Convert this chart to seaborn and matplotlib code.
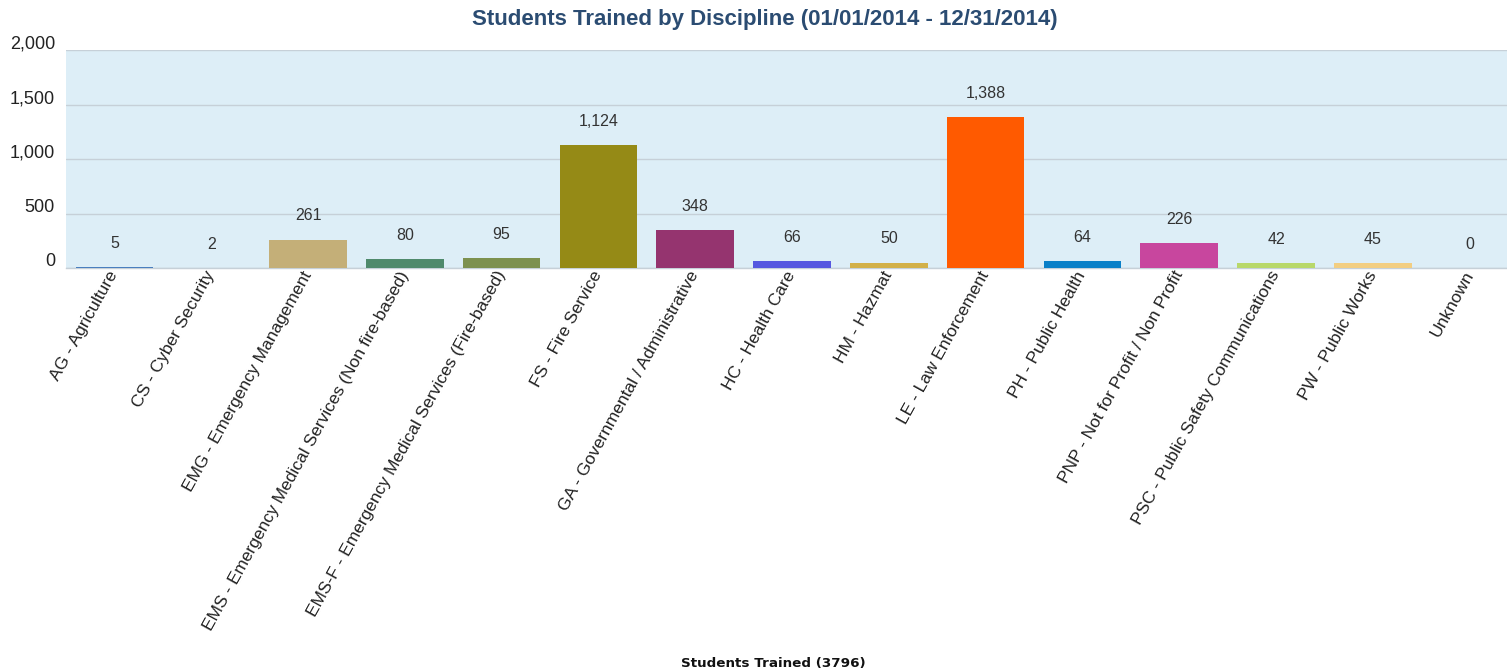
import matplotlib
matplotlib.use("Agg")
import matplotlib.pyplot as plt
import matplotlib.transforms as mtrans
import seaborn as sns
import pandas as pd
import numpy as np

categories = [
    "AG - Agriculture",
    "CS - Cyber Security",
    "EMG - Emergency Management",
    "EMS - Emergency Medical Services (Non fire-based)",
    "EMS-F - Emergency Medical Services (Fire-based)",
    "FS - Fire Service",
    "GA - Governmental / Administrative",
    "HC - Health Care",
    "HM - Hazmat",
    "LE - Law Enforcement",
    "PH - Public Health",
    "PNP - Not for Profit / Non Profit",
    "PSC - Public Safety Communications",
    "PW - Public Works",
    "Unknown",
]
students = [5, 2, 261, 80, 95, 1124, 348, 66, 50, 1388, 64, 226, 42, 45, 0]
bar_colors = [
    "#4A7FBF", "#8E8E8E", "#C4AF78", "#4F8A6C", "#7D914F", "#958A16",
    "#95346F", "#5658E0", "#D2B048", "#FF5A00", "#0A80C8", "#C8469E",
    "#B8D86A", "#F2CE82", "#999999",
]
y_ticks = [0, 500, 1000, 1500, 2000]
title = "Students Trained by Discipline (01/01/2014 - 12/31/2014)"
x_title = "Students Trained (3796)"

sns.set_theme(style="white")
plt.rcParams["font.family"] = ["Liberation Sans", "DejaVu Sans"]

df = pd.DataFrame({"cat": categories, "val": students})

W, H = 1507, 671
fig = plt.figure(figsize=(W / 100, H / 100), dpi=100)
ax = fig.add_axes([66 / W, 1 - 268 / H, 1452 / W, 218 / H])
ax.set_facecolor("#DDEEF7")

sns.barplot(data=df, x="cat", y="val", hue="cat", order=categories,
            palette=dict(zip(categories, bar_colors)), legend=False,
            width=0.8, saturation=1, linewidth=0, edgecolor="none",
            ax=ax, zorder=3)

ax.set_xlim(-0.5, len(categories) - 0.5)
ax.set_ylim(0, 2000)
ax.set_yticks(y_ticks)
ax.set_yticklabels([f"{v:,}" for v in y_ticks], fontsize=13, color="#222222")
ax.yaxis.grid(True, color="#C6D0D8", linewidth=1, zorder=0)
ax.set_axisbelow(True)
for s in ["top", "right", "left"]:
    ax.spines[s].set_visible(False)
ax.spines["bottom"].set_color("#C6D0D8")
ax.spines["bottom"].set_linewidth(1)

ax.tick_params(axis="y", length=0, pad=8)
shift = mtrans.ScaledTranslation(0, 8 / 100, fig.dpi_scale_trans)
for lab in ax.get_yticklabels():
    lab.set_transform(lab.get_transform() + shift)

ax.set_xticks(range(len(categories)))
ax.set_xticklabels(categories, rotation=61, ha="right", va="center",
                   rotation_mode="anchor", fontsize=12.5, color="#222222")
ax.tick_params(axis="x", length=0, pad=3)
ax.set_xticks(np.arange(-0.5, len(categories), 1.0), minor=True)
ax.tick_params(axis="x", which="minor", length=4, color="#C6D0D8", width=1)
ax.set_xlabel("")
ax.set_ylabel("")

for i, v in enumerate(students):
    ax.annotate(f"{v:,}", xy=(i, v), xytext=(0, 17), textcoords="offset points",
                ha="center", va="center", fontsize=11.5, color="#333333")

fig.text(765 / W, 1 - 20 / H, title, ha="center", va="center",
         fontsize=16, fontweight="bold", color="#2B4C72")
fig.text(773 / W, 1 - 664 / H, x_title, ha="center", va="center",
         fontsize=9.7, fontweight="bold", color="#111111", family="DejaVu Sans")

fig.savefig("out.png", dpi=100, facecolor="white")
